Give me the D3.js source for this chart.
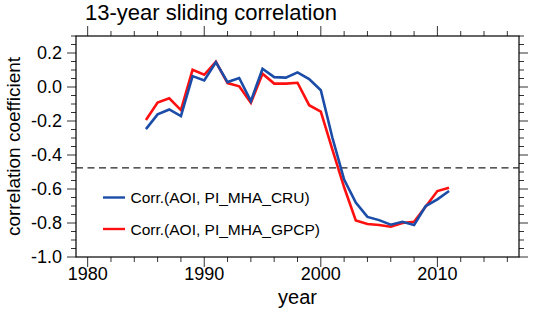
<!DOCTYPE html>
<html><head><meta charset="utf-8">
<script src="https://cdn.jsdelivr.net/npm/d3@7"></script>
<style>body{margin:0;background:#fff}svg{display:block}text{font-family:"Liberation Sans",Arial,sans-serif;fill:#000}</style>
</head><body>
<svg id="c" width="533" height="315"></svg>
<script>
const years = d3.range(1985, 2012);
const cru  = [-0.248,-0.161,-0.132,-0.171,0.064,0.039,0.146,0.029,0.053,-0.083,0.107,0.058,0.055,0.086,0.047,-0.019,-0.30,-0.545,-0.68,-0.764,-0.783,-0.81,-0.793,-0.812,-0.70,-0.661,-0.612];
const gpcp = [-0.194,-0.091,-0.066,-0.136,0.101,0.072,0.148,0.023,0.004,-0.093,0.078,0.02,0.02,0.025,-0.107,-0.145,-0.37,-0.59,-0.785,-0.806,-0.812,-0.822,-0.80,-0.793,-0.703,-0.612,-0.593];
const sigLevel = -0.476;
const xMajor = [1980, 1990, 2000, 2010];
const yMajor = [0.2, 0.0, -0.2, -0.4, -0.6, -0.8, -1.0];
const seriesNames = ["Corr.(AOI, PI_MHA_CRU)", "Corr.(AOI, PI_MHA_GPCP)"];
const colors = ["#1a4ca8", "#ff1010"];

const svg = d3.select("#c");
const L = 76, R = 519, T = 36, B = 257;
const x = d3.scaleLinear().domain([1979, 2017]).range([L, R]);
const y = d3.scaleLinear().domain([-1.0, 0.3]).range([B, T]);

const xMinor = d3.range(1980, 2017, 2);
const yMinor = d3.range(-20, 7).map(i => i * 0.05);

function ticks(g, pos, isX, major, len) {
  // handled below
}
const tc = "#333";
// bottom & top ticks
[[B, 1], [T, -1]].forEach(([yy, dir]) => {
  svg.append("g").selectAll("line").data(xMinor).join("line")
    .attr("x1", d => x(d)).attr("x2", d => x(d))
    .attr("y1", yy).attr("y2", d => yy + dir * (xMajor.includes(d) ? 10 : 5))
    .attr("stroke", tc).attr("stroke-width", 1);
});
// left & right ticks
[[L, -1], [R, 1]].forEach(([xx, dir]) => {
  svg.append("g").selectAll("line").data(yMinor).join("line")
    .attr("y1", d => y(d)).attr("y2", d => y(d))
    .attr("x1", xx).attr("x2", d => xx + dir * (Math.abs(Math.round(d * 20)) % 4 === 0 ? 9 : 5))
    .attr("stroke", tc).attr("stroke-width", 1);
});
// frame
svg.append("rect").attr("x", L).attr("y", T).attr("width", R - L).attr("height", B - T)
  .attr("fill", "none").attr("stroke", "#000").attr("stroke-width", 1.2);

// tick labels
svg.append("g").selectAll("text").data(xMajor).join("text")
  .attr("x", d => x(d)).attr("y", 280).attr("text-anchor", "middle")
  .attr("font-size", 18).text(d => d);
svg.append("g").selectAll("text").data(yMajor).join("text")
  .attr("x", 62).attr("y", d => y(d)).attr("dy", "0.36em").attr("text-anchor", "end")
  .attr("font-size", 18).text(d => d3.format(".1f")(d).replace("−", "-"));

// dashed significance line
svg.append("line").attr("x1", L).attr("x2", R).attr("y1", y(sigLevel)).attr("y2", y(sigLevel))
  .attr("stroke", "#222").attr("stroke-width", 1.3).attr("stroke-dasharray", "7,4.5");

// series
const line = d3.line().x((d, i) => x(years[i])).y(d => y(d));
[gpcp, cru].forEach((s, k) => {
  svg.append("path").datum(s).attr("d", line).attr("fill", "none")
    .attr("stroke", colors[1 - k]).attr("stroke-width", 2.6).attr("stroke-linejoin", "miter");
});

// legend
const legY = [197.5, 229];
seriesNames.forEach((n, i) => {
  svg.append("line").attr("x1", 103).attr("x2", 125).attr("y1", legY[i]).attr("y2", legY[i])
    .attr("stroke", colors[i]).attr("stroke-width", 2.4);
  svg.append("text").attr("x", 130.5).attr("y", legY[i]).attr("dy", "0.36em")
    .attr("font-size", 15.5).text(n);
});

// titles
svg.append("text").attr("x", 85).attr("y", 20).attr("font-size", 22).text("13-year sliding correlation");
svg.append("text").attr("x", (L + R) / 2).attr("y", 304).attr("text-anchor", "middle")
  .attr("font-size", 20).text("year");
svg.append("text").attr("transform", `translate(20,${(T + B) / 2}) rotate(-90)`)
  .attr("text-anchor", "middle").attr("font-size", 19).text("correlation coefficient");
</script>
</body></html>
